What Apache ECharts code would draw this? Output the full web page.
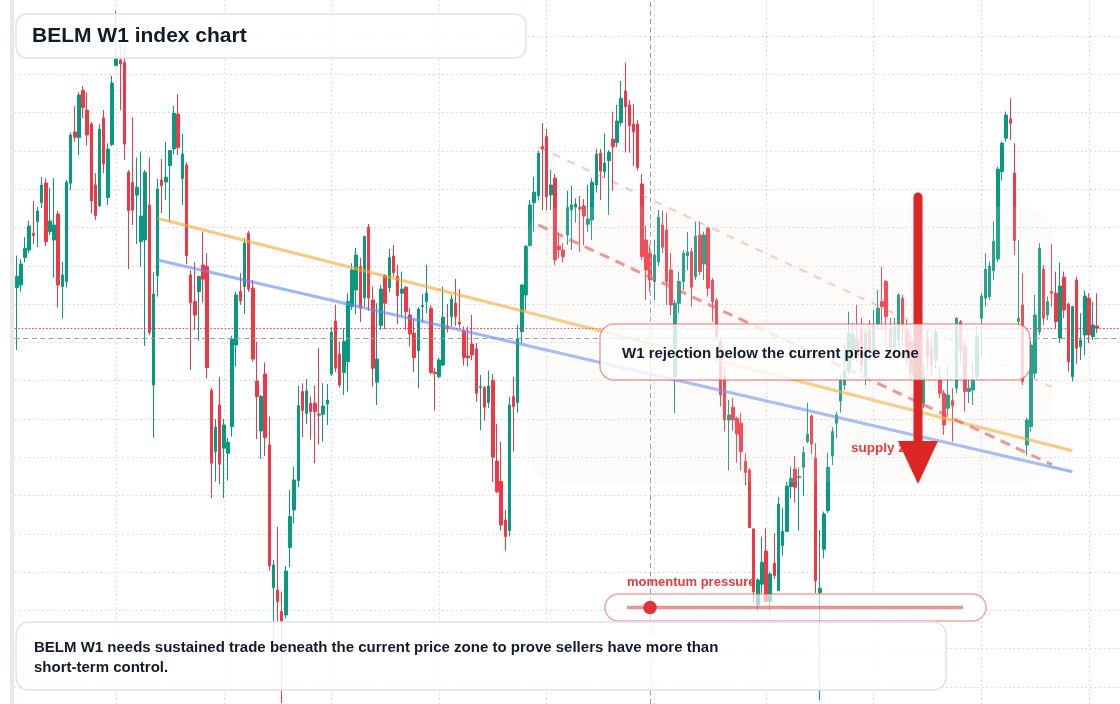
<!DOCTYPE html>
<html>
<head>
<meta charset="utf-8">
<title>BELM W1 index chart</title>
<script src="https://cdn.jsdelivr.net/npm/echarts@6.0.0/dist/echarts.min.js"></script>
<style>
  html, body { margin: 0; padding: 0; background: #ffffff; }
  #chart { width: 1120px; height: 704px; }
</style>
</head>
<body>
<div id="chart"></div>
<script>
// ---------------- DATA (weekly candles) ----------------
const opens = [
1199.7,1201.0,1214.7,1218.5,1226.9,1232.7,1242.2,1252.0,1227.7,1223.5,
1236.5,1200.2,1202.7,1251.9,1277.5,1274.7,1298.2,1288.5,1281.5,1251.0,
1240.7,1284.5,1244.7,1271.2,1310.7,1313.5,1312.2,1257.5,1252.2,1246.0,
1222.7,1223.5,1241.0,1151.0,1205.7,1253.5,1252.5,1260.7,1269.0,1286.5,
1254.2,1261.0,1206.0,1192.7,1197.7,1211.0,1210.2,1148.2,1117.7,1141.0,
1119.4,1116.9,1130.2,1171.0,1197.7,1200.2,1226.9,1199.4,1153.0,1128.0,
1156.5,1121.0,1049.7,1048.5,1037.7,1036.0,1069.7,1088.5,1103.2,1147.7,
1136.9,1141.9,1141.9,1136.5,1136.4,1141.5,1156.5,1183.0,1166.5,1157.2,
1162.7,1190.2,1198.5,1210.2,1194.7,1229.9,1193.5,1152.4,1180.7,1205.7,
1199.7,1215.5,1205.2,1196.9,1199.9,1186.0,1176.9,1168.2,1190.2,1192.7,
1189.4,1157.4,1155.2,1161.0,1180.5,1185.2,1191.9,1182.4,1178.0,1165.5,
1171.5,1169.0,1149.7,1149.7,1142.2,1153.2,1113.0,1102.7,1083.5,1078.2,
1145.2,1142.2,1177.7,1196.0,1220.7,1242.2,1245.7,1270.2,1275.2,1246.0,
1254.4,1220.5,1218.5,1226.0,1238.5,1239.9,1239.9,1240.5,1231.4,1233.5,
1251.0,1266.9,1257.7,1263.2,1273.9,1272.2,1282.2,1298.0,1291.0,1281.5,
1281.5,1251.5,1223.5,1216.9,1202.7,1212.5,1231.0,1228.5,1208.5,1155.2,
1191.9,1202.7,1215.5,1217.7,1205.2,1226.0,1211.5,1229.4,1203.5,1193.2,
1172.7,1155.2,1133.5,1139.9,1134.4,1131.9,1112.7,1108.5,1079.0,1041.0,
1051.4,1068.0,1042.7,1061.9,1048.2,1070.7,1077.7,1100.2,1108.9,1104.7,
1109.9,1122.7,1135.5,1114.4,1047.2,1068.9,1088.2,1115.5,1131.9,1143.0,
1151.0,1157.7,1168.5,1174.4,1178.5,1155.2,1178.5,1167.5,1181.0,1192.7,
1202.7,1179.5,1170.2,1173.5,1194.4,1178.5,1172.7,1163.5,1146.0,1141.9,
1173.5,1169.5,1163.5,1153.5,1146.9,1139.4,1143.2,1149.4,1182.7,1170.2,
1147.7,1148.5,1155.2,1184.4,1194.4,1195.2,1208.2,1214.0,1257.7,1274.4,
1283.9,1256.9,1182.7,1191.0,1121.0,1130.2,1156.9,1177.7,1208.9,1186.0,
1197.7,1196.9,1174.4,1204.9,1191.5,1155.2,1203.5,1170.2,1176.0,1194.4,
1175.2,1180.5
];
const closes = [
1205.2,1211.5,1219.4,1230.5,1225.8,1238.0,1251.0,1222.7,1233.0,1231.0,
1201.0,1206.0,1252.4,1276.0,1274.9,1296.0,1289.7,1276.0,1243.0,1235.7,
1279.0,1261.5,1269.0,1302.0,1314.4,1311.5,1271.5,1238.2,1238.5,1249.9,
1235.5,1257.4,1177.2,1196.5,1249.0,1250.7,1254.9,1268.2,1286.9,1269.7,
1266.5,1215.7,1192.2,1186.0,1205.2,1203.9,1159.7,1111.9,1129.9,1111.4,
1131.0,1122.4,1174.0,1196.0,1193.0,1221.9,1199.0,1164.0,1145.2,1145.2,
1124.7,1060.5,1061.0,1042.7,1032.7,1058.0,1085.2,1103.5,1140.7,1138.2,
1148.0,1137.7,1137.7,1135.9,1140.5,1143.5,1177.4,1159.4,1151.0,1172.7,
1192.7,1208.5,1216.0,1189.4,1225.2,1194.5,1159.4,1164.0,1199.0,1191.9,
1214.7,1207.2,1195.7,1199.0,1187.7,1176.5,1164.7,1189.0,1190.7,1196.9,
1157.2,1156.7,1163.5,1184.9,1179.9,1193.9,1185.2,1181.5,1164.7,1164.7,
1166.0,1146.9,1150.2,1139.9,1150.5,1114.9,1097.7,1081.0,1075.2,1141.0,
1140.2,1174.4,1201.0,1220.2,1241.0,1247.4,1266.9,1269.0,1245.2,1251.0,
1213.5,1218.5,1215.2,1239.9,1241.0,1241.5,1239.0,1235.5,1234.0,1252.4,
1266.5,1258.0,1261.9,1267.4,1270.2,1283.0,1294.4,1290.2,1280.7,1277.7,
1259.7,1215.2,1208.5,1203.5,1216.0,1234.9,1219.9,1202.7,1191.0,1191.9,
1202.7,1216.9,1217.5,1199.9,1225.5,1207.7,1226.0,1199.4,1192.7,1175.2,
1146.0,1133.5,1136.0,1133.5,1126.5,1117.7,1107.2,1079.7,1047.7,1053.5,
1062.4,1042.7,1056.5,1055.7,1091.5,1077.7,1100.5,1104.4,1099.9,1105.2,
1117.2,1126.4,1121.5,1053.2,1049.4,1086.5,1109.9,1127.7,1136.0,1153.5,
1158.2,1176.9,1176.0,1165.2,1161.0,1177.0,1168.5,1181.0,1189.4,1190.2,
1185.2,1170.0,1180.2,1196.0,1181.0,1166.0,1156.9,1154.5,1154.5,1155.2,
1165.2,1161.0,1177.5,1146.9,1131.0,1146.0,1140.5,1184.4,1168.5,1147.7,
1149.4,1153.5,1175.2,1195.5,1208.9,1210.5,1222.7,1258.9,1271.9,1286.0,
1281.9,1223.2,1184.4,1152.7,1133.5,1171.0,1186.0,1219.4,1184.4,1192.7,
1196.9,1182.7,1200.5,1188.5,1162.7,1190.2,1169.4,1173.5,1195.5,1176.0,
1181.0,1179.4
];
const highs = [
1215.7,1214.0,1224.9,1233.2,1243.0,1240.0,1255.0,1254.4,1249.4,1254.4,
1238.0,1212.5,1253.5,1277.2,1290.5,1297.4,1300.5,1297.2,1282.5,1256.9,
1281.4,1288.5,1271.9,1305.5,1338.0,1320.2,1321.0,1258.5,1284.9,1264.7,
1267.7,1258.5,1264.7,1207.4,1254.0,1264.0,1272.4,1268.5,1290.5,1296.5,
1276.5,1262.4,1208.5,1212.4,1205.7,1227.7,1216.9,1149.5,1134.0,1155.2,
1134.0,1124.4,1175.7,1197.7,1206.9,1224.5,1228.0,1203.5,1172.7,1146.0,
1162.2,1135.2,1063.5,1080.2,1047.7,1060.5,1098.5,1110.2,1150.7,1151.9,
1154.0,1145.2,1150.7,1169.4,1151.9,1151.5,1179.9,1191.0,1172.7,1179.4,
1196.9,1211.9,1219.5,1214.5,1225.7,1231.5,1200.2,1191.9,1201.0,1206.5,
1219.0,1221.0,1211.0,1207.7,1200.5,1189.4,1183.9,1189.9,1196.5,1211.0,
1191.0,1159.4,1164.5,1200.2,1191.5,1196.0,1204.0,1199.0,1180.2,1180.2,
1186.0,1172.0,1156.0,1150.5,1158.2,1156.5,1131.5,1122.7,1088.5,1145.2,
1154.9,1181.0,1201.5,1221.0,1243.5,1255.2,1268.2,1281.9,1279.0,1258.5,
1256.5,1227.2,1221.9,1248.2,1250.5,1244.4,1245.5,1243.9,1251.0,1254.4,
1269.0,1269.0,1276.9,1268.5,1287.7,1291.0,1303.0,1312.2,1293.5,1291.5,
1283.5,1256.5,1230.5,1221.0,1223.5,1238.5,1238.2,1236.9,1217.0,1193.5,
1207.7,1218.5,1227.5,1219.4,1232.7,1232.7,1227.7,1230.2,1204.5,1194.5,
1175.0,1160.2,1143.5,1144.4,1135.2,1136.9,1116.9,1109.5,1079.4,1054.4,
1075.2,1079.4,1057.7,1076.9,1094.9,1089.4,1102.7,1110.2,1115.5,1109.7,
1120.2,1142.2,1136.4,1121.9,1078.5,1087.7,1117.2,1129.9,1137.7,1156.0,
1172.2,1187.7,1182.0,1191.0,1184.5,1179.5,1183.5,1188.5,1198.5,1210.2,
1203.5,1184.5,1184.5,1197.0,1196.0,1183.5,1178.5,1171.0,1163.5,1161.0,
1178.5,1174.5,1180.0,1160.2,1148.5,1160.2,1149.4,1184.9,1183.5,1173.5,
1153.5,1161.9,1180.2,1196.9,1216.9,1212.7,1232.7,1260.2,1272.7,1287.7,
1294.4,1271.9,1223.5,1206.9,1134.5,1172.7,1196.0,1221.9,1211.0,1195.2,
1221.5,1207.7,1212.2,1207.7,1192.2,1190.2,1205.2,1186.9,1198.2,1196.9,
1192.7,1196.9
];
const lows = [
1168.5,1197.7,1212.2,1216.9,1221.5,1220.0,1239.4,1220.5,1226.0,1204.7,
1189.7,1184.2,1199.7,1248.5,1272.7,1266.0,1284.4,1270.7,1236.9,1233.5,
1240.0,1256.9,1241.0,1270.5,1310.5,1288.5,1263.5,1209.0,1231.0,1221.5,
1210.2,1170.5,1176.0,1124.7,1195.2,1236.9,1243.5,1232.7,1266.5,1266.0,
1241.0,1211.4,1158.5,1178.5,1173.2,1192.2,1154.2,1094.4,1102.7,1101.5,
1094.4,1103.2,1125.2,1160.2,1191.0,1186.5,1197.5,1162.7,1124.0,1114.0,
1115.5,1058.2,1015.2,1032.5,991.9,1034.2,1059.9,1081.9,1099.9,1124.9,
1131.4,1123.5,1111.9,1121.2,1122.7,1131.0,1155.5,1157.5,1149.7,1146.0,
1147.7,1188.5,1186.4,1182.4,1190.2,1188.0,1150.2,1141.0,1178.5,1178.9,
1197.2,1205.2,1181.5,1185.2,1178.5,1170.2,1157.4,1149.4,1182.2,1186.9,
1156.4,1138.2,1154.4,1160.5,1177.2,1180.2,1180.5,1179.7,1160.7,1160.2,
1163.5,1142.7,1128.5,1133.2,1139.4,1102.4,1096.9,1078.2,1068.2,1075.2,
1117.7,1137.2,1171.9,1188.2,1220.2,1227.7,1243.2,1238.5,1238.2,1238.5,
1211.0,1214.5,1212.2,1221.0,1218.5,1232.2,1217.5,1221.0,1227.5,1223.5,
1247.2,1243.5,1254.4,1236.0,1248.2,1269.9,1280.5,1267.2,1267.2,1260.5,
1258.2,1213.5,1193.5,1197.7,1193.5,1210.5,1217.0,1191.0,1186.0,1136.9,
1186.9,1198.5,1208.5,1190.2,1203.5,1206.0,1203.5,1195.2,1182.7,1173.5,
1140.2,1127.7,1108.2,1128.2,1112.2,1108.2,1101.0,1079.4,1041.9,1037.7,
1046.9,1042.5,1037.7,1054.0,1048.0,1065.7,1077.5,1094.4,1092.2,1078.2,
1095.5,1121.9,1116.5,1046.9,993.5,1064.4,1086.9,1111.0,1124.4,1137.2,
1148.5,1156.0,1163.5,1162.5,1157.5,1151.0,1163.5,1164.5,1178.5,1178.5,
1171.0,1163.5,1166.0,1170.2,1171.0,1161.0,1153.5,1146.0,1141.0,1139.4,
1158.5,1156.0,1159.5,1144.4,1126.0,1136.0,1122.7,1146.9,1162.5,1137.7,
1141.9,1141.0,1153.5,1165.2,1190.2,1193.5,1203.5,1212.5,1253.2,1272.7,
1273.5,1216.0,1178.5,1151.0,1116.0,1127.7,1154.5,1176.0,1181.0,1183.5,
1190.2,1179.4,1172.0,1184.5,1157.7,1152.7,1161.5,1163.5,1166.0,1171.9,
1173.5,1176.9
];
// trend lines: [week index, price]
const resistanceLine = [[34, 1234.35], [255, 1118.15]];
const supportLine    = [[34, 1213.5],  [255, 1107.65]];
const channelLow     = [[126, 1231.0], [250, 1111.25]];
const channelHigh    = [[126, 1270.0], [250, 1150.0]];
// crosshair reading
const crosshairWeek = 153;
const crosshairPrice = 1174.35;
// half-year boundaries (week indices) used for the vertical grid
const halfYearWeeks = [24, 50, 76, 102, 128, 154, 181, 207, 233, 259];
const totalWeeks = 267;

// ---------------- BUILD ----------------
const weeks = [];
const t0 = Date.UTC(2019, 6, 22);
for (let k = 0; k < totalWeeks; k++) {
  weeks.push(new Date(t0 + k * 7 * 86400000).toISOString().slice(0, 10));
}
const candles = opens.map((o, i) => {
  const c = closes[i];
  return [o, c, Math.min(lows[i], o, c), Math.max(highs[i], o, c)];
});
const lastClose = closes[closes.length - 1];

const UP = '#089981', DOWN = '#f23645';
const GRID_COLOR = '#d2d4d8';
const FONT = '"Liberation Sans", Arial, Helvetica, sans-serif';
const INK = '#131a29';
const RED = '#dc2626';

const chart = echarts.init(document.getElementById('chart'), null, { renderer: 'canvas' });

function trend(data, color, width, type, z) {
  return {
    type: 'line', xAxisIndex: 0, yAxisIndex: 0, data: data,
    showSymbol: false, symbol: 'none', silent: true, z: z,
    lineStyle: { color: color, width: width, type: type, cap: 'butt' },
    emphasis: { disabled: true }
  };
}

const option = {
  animation: false,
  backgroundColor: '#ffffff',
  grid: [
    { left: 14.73, right: 0, top: 0, bottom: 0 },
    { left: 14.73, right: 0, top: 36, bottom: 17 }
  ],
  xAxis: [
    { type: 'category', gridIndex: 0, data: weeks, boundaryGap: true,
      axisLine: { show: false }, axisTick: { show: false }, axisLabel: { show: false },
      splitLine: { show: false } },
    { type: 'value', gridIndex: 1, min: 0, max: 1, show: false }
  ],
  yAxis: [
    { type: 'value', gridIndex: 0, min: 991.5, max: 1343.5, show: false },
    { type: 'value', gridIndex: 1, min: 0, max: 17, interval: 1,
      axisLine: { show: false }, axisTick: { show: false }, axisLabel: { show: false },
      splitLine: { show: true, lineStyle: { color: GRID_COLOR, width: 1, type: [1.5, 3] } } }
  ],
  series: [
    {
      type: 'line', xAxisIndex: 0, yAxisIndex: 0, data: [], silent: true,
      markLine: {
        silent: true, z: 1, symbol: ['none', 'none'], label: { show: false },
        emphasis: { disabled: true },
        lineStyle: { color: GRID_COLOR, width: 1, type: [1.5, 3] },
        data: halfYearWeeks.map(w => ({ xAxis: w }))
      }
    },
    {
      type: 'candlestick', name: 'BELM W1', xAxisIndex: 0, yAxisIndex: 0,
      data: candles, barWidth: 3, z: 2, silent: true,
      itemStyle: { color: UP, color0: DOWN, borderColor: UP, borderColor0: DOWN, borderWidth: 1 },
      markLine: {
        silent: true, z: 6, symbol: ['none', 'none'], label: { show: false },
        emphasis: { disabled: true },
        data: [
          { xAxis: crosshairWeek, lineStyle: { color: '#9b9b9b', width: 1, type: [5, 3.5] } },
          { yAxis: crosshairPrice, lineStyle: { color: '#9b9b9b', width: 1, type: [5, 3.5] } },
          { yAxis: lastClose, lineStyle: { color: DOWN, width: 1, type: [1.5, 2] } }
        ]
      }
    },
    trend(resistanceLine, 'rgba(245,170,45,0.62)', 3, 'solid', 4),
    trend(supportLine, 'rgba(95,140,240,0.62)', 3, 'solid', 4),
    trend(channelLow, 'rgba(226,66,66,0.62)', 3, [10, 7], 4),
    trend(channelHigh, 'rgba(236,100,100,0.38)', 2, [8, 8], 4)
  ],
  graphic: [
    { type: 'rect', z: 1, silent: true, shape: { x: 10, y: 0, width: 4, height: 704 },
      style: { fill: '#e8e8e8' } },
    // supply zone shading
    { type: 'rect', z: 7, silent: true, shape: { x: 527, y: 207, width: 525, height: 275, r: 30 },
      style: { fill: 'rgba(240,225,210,0.14)' } },
    { type: 'text', z: 12, silent: true, x: 851, y: 448,
      style: { text: 'supply zone', font: 'bold 13.5px ' + FONT, fill: '#e03c3c',
               textAlign: 'left', textVerticalAlign: 'middle' } },
    // arrow
    { type: 'line', z: 15, silent: true, shape: { x1: 918, y1: 197, x2: 918, y2: 446 },
      style: { stroke: RED, lineWidth: 9, lineCap: 'round' } },
    { type: 'polygon', z: 15, silent: true, shape: { points: [[898, 441], [938, 441], [918, 484]] },
      style: { fill: RED } },
    // callout
    { type: 'rect', z: 20, silent: true, shape: { x: 600, y: 324, width: 430, height: 56, r: 14 },
      style: { fill: 'rgba(255,255,255,0.78)', stroke: 'rgba(226,70,70,0.5)', lineWidth: 1.5 } },
    { type: 'text', z: 21, silent: true, x: 622, y: 353.5,
      style: { text: 'W1 rejection below the current price zone', font: 'bold 15px ' + FONT, fill: INK,
               textAlign: 'left', textVerticalAlign: 'middle' } },
    // momentum widget
    { type: 'text', z: 21, silent: true, x: 627, y: 582.5,
      style: { text: 'momentum pressure', font: 'bold 13px ' + FONT, fill: '#e03c3c',
               textAlign: 'left', textVerticalAlign: 'middle' } },
    { type: 'rect', z: 20, silent: true, shape: { x: 605, y: 594, width: 381, height: 27, r: 13.5 },
      style: { fill: 'rgba(255,255,255,0.65)', stroke: 'rgba(226,70,70,0.5)', lineWidth: 1.5 } },
    { type: 'line', z: 21, silent: true, shape: { x1: 627, y1: 607.5, x2: 963, y2: 607.5 },
      style: { stroke: 'rgba(220,38,38,0.5)', lineWidth: 3.5 } },
    { type: 'circle', z: 22, silent: true, shape: { cx: 650, cy: 607.5, r: 6.8 },
      style: { fill: '#dd3535' } },
    // title
    { type: 'rect', z: 20, silent: true, shape: { x: 16, y: 14, width: 510, height: 44, r: 11 },
      style: { fill: 'rgba(255,255,255,0.86)', stroke: '#d6e3f8', lineWidth: 1.5 } },
    { type: 'text', z: 21, silent: true, x: 32, y: 36,
      style: { text: 'BELM W1 index chart', font: 'bold 21px ' + FONT, fill: INK,
               textAlign: 'left', textVerticalAlign: 'middle' } },
    // bottom note
    { type: 'rect', z: 20, silent: true, shape: { x: 16, y: 622, width: 930, height: 68, r: 13 },
      style: { fill: 'rgba(255,255,255,0.86)', stroke: '#d6e3f8', lineWidth: 1.5 } },
    { type: 'text', z: 21, silent: true, x: 34, y: 648,
      style: { text: 'BELM W1 needs sustained trade beneath the current price zone to prove sellers have more than',
               font: 'bold 15px ' + FONT, fill: INK, textAlign: 'left', textVerticalAlign: 'middle' } },
    { type: 'text', z: 21, silent: true, x: 34, y: 668,
      style: { text: 'short-term control.', font: 'bold 15px ' + FONT, fill: INK,
               textAlign: 'left', textVerticalAlign: 'middle' } }
  ]
};
chart.setOption(option);
</script>
</body>
</html>
